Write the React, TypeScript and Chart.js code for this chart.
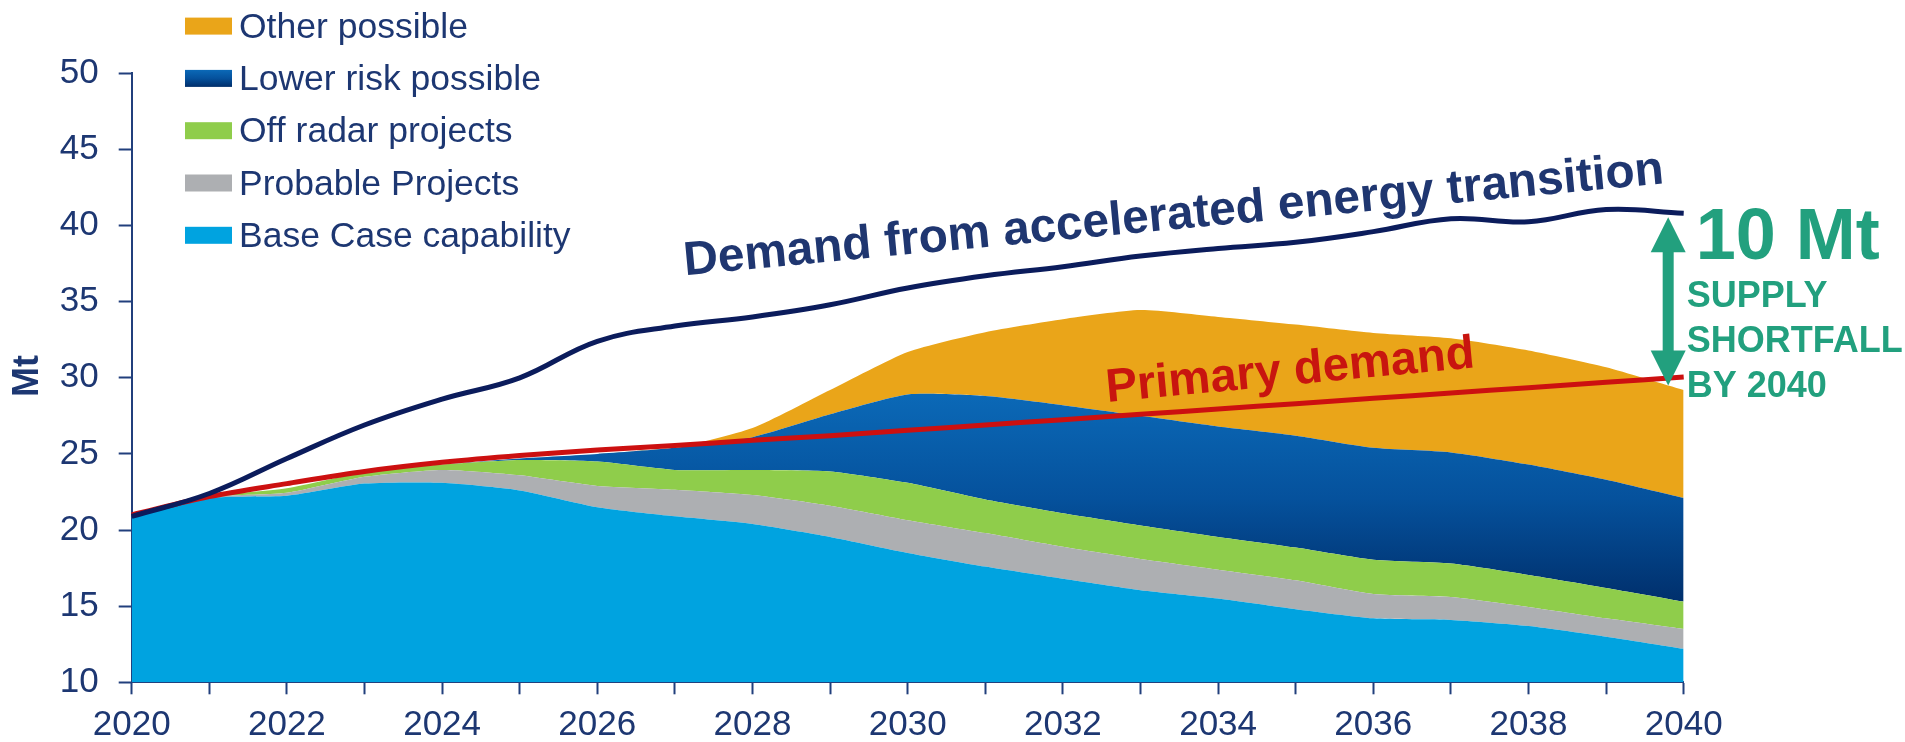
import { useEffect, useRef } from 'react';
import { Chart, registerables } from 'chart.js';

Chart.register(...registerables);

// ---------- data ----------
const years = ['2020', '2021', '2022', '2023', '2024', '2025', '2026', '2027', '2028', '2029', '2030', '2031', '2032', '2033', '2034', '2035', '2036', '2037', '2038', '2039', '2040'];

// stacked supply layers (Mt), bottom to top
const baseCase = [20.8, 22.1, 22.25, 23.05, 23.1, 22.6, 21.5, 20.9, 20.4, 19.55, 18.5, 17.6, 16.8, 16.05, 15.5, 14.8, 14.2, 14.1, 13.7, 13.0, 12.2];
const probableProjects = [0, 0.05, 0.2, 0.45, 0.85, 1.0, 1.4, 1.75, 1.9, 2.05, 2.15, 2.2, 2.1, 2.05, 1.9, 1.9, 1.6, 1.5, 1.25, 1.2, 1.3];
const offRadarProjects = [0, 0.05, 0.3, 0.3, 0.35, 1.0, 1.6, 1.3, 1.65, 2.25, 2.45, 2.2, 2.2, 2.2, 2.15, 2.15, 2.25, 2.2, 2.1, 2.0, 1.8];
const lowerRiskPossible = [0, 0, 0, 0, 0, 0.1, 0.5, 1.45, 2.15, 3.75, 5.8, 6.8, 7.1, 7.2, 7.25, 7.35, 7.35, 7.3, 7.25, 7.1, 6.8];
const otherPossible = [0, 0, 0, 0, 0, 0, 0, 0, 0.6, 1.6, 2.8, 4.2, 5.65, 6.95, 7.2, 7.3, 7.55, 7.5, 7.5, 7.4, 7.1];

// demand lines (Mt)
const primaryDemand = [21.0, 22.2, 23.05, 23.85, 24.45, 24.9, 25.25, 25.55, 25.9, 26.2, 26.55, 26.9, 27.25, 27.6, 27.95, 28.3, 28.65, 29.0, 29.35, 29.7, 30.05];
const acceleratedDemand = [20.9, 22.4, 24.7, 26.9, 28.6, 30.0, 32.4, 33.4, 34.0, 34.8, 35.9, 36.7, 37.3, 38.0, 38.5, 38.9, 39.6, 40.45, 40.25, 41.05, 40.8];

const legendLabels = ['Other possible', 'Lower risk possible', 'Off radar projects', 'Probable Projects', 'Base Case capability'];

const Y_MIN = 10;
const Y_MAX = 50;
const Y_STEP = 5;

// ---------- styles ----------
const FONT = '"Liberation Sans", Arial, Helvetica, sans-serif';
const TEXT_NAVY = '#1d3772';
const AXIS_NAVY = '#213f7c';
const C_BASE = '#00a3e0';
const C_PROB = '#adafb2';
const C_OFF = '#8fcd4b';
const C_OTHER = '#eaa519';
const C_RED = '#cc1010';
const C_DEMAND = '#0b1c5c';
const C_GREEN_TXT = '#22a07e';

function lowerRiskGradient(ctx: CanvasRenderingContext2D, y0: number, y1: number) {
  const g = ctx.createLinearGradient(0, y0, 0, y1);
  g.addColorStop(0, '#0b69b7');
  g.addColorStop(0.5, '#05519c');
  g.addColorStop(1, '#002e6a');
  return g;
}

const lowerRiskFill = (context: any) => {
  const chart = context.chart;
  const ys = chart.scales && chart.scales.y;
  if (!chart.chartArea || !ys) return '#05519c';
  return lowerRiskGradient(chart.ctx, ys.getPixelForValue(29), ys.getPixelForValue(15));
};

const overlayPlugin = {
  id: 'overlay',
  afterDraw(chart: any) {
    const { ctx, chartArea } = chart;
    const xs = chart.scales.x;
    const ys = chart.scales.y;
    const px = (yr: number) => xs.getPixelForValue(yr - 2020);
    const py = (v: number) => ys.getPixelForValue(v);

    // legend
    const legendColors = [C_OTHER, 'grad', C_OFF, C_PROB, C_BASE];
    const boxX = 185, boxW = 47, boxH = 17, textX = 239;
    const firstCenter = 26.1, spacing = 52.3;
    ctx.save();
    ctx.font = `35.5px ${FONT}`;
    ctx.textBaseline = 'alphabetic';
    ctx.textAlign = 'left';
    legendLabels.forEach((label, i) => {
      const cy = firstCenter + i * spacing;
      const c = legendColors[i];
      ctx.fillStyle = c === 'grad' ? lowerRiskGradient(ctx, cy - boxH / 2, cy + boxH / 2) : c;
      ctx.fillRect(boxX, cy - boxH / 2, boxW, boxH);
      ctx.fillStyle = TEXT_NAVY;
      ctx.fillText(label, textX, cy + 11.5);
    });
    ctx.restore();

    // y axis title
    ctx.save();
    ctx.translate(28, 376);
    ctx.rotate(-Math.PI / 2);
    ctx.font = `bold 36px ${FONT}`;
    ctx.fillStyle = TEXT_NAVY;
    ctx.textAlign = 'center';
    ctx.textBaseline = 'middle';
    ctx.fillText('Mt', 0, 0);
    ctx.restore();

    // slanted labels fitted between two data-space anchors
    const slanted = (text: string, a: [number, number], b: [number, number], color: string, size: number) => {
      const x1 = px(a[0]), y1 = py(a[1]), x2 = px(b[0]), y2 = py(b[1]);
      const ang = Math.atan2(y2 - y1, x2 - x1);
      const dist = Math.hypot(x2 - x1, y2 - y1);
      ctx.save();
      ctx.font = `bold ${size}px ${FONT}`;
      const w = ctx.measureText(text).width;
      const fs = size * dist / w;
      ctx.font = `bold ${fs}px ${FONT}`;
      ctx.translate(x1, y1);
      ctx.rotate(ang);
      ctx.fillStyle = color;
      ctx.textAlign = 'left';
      ctx.textBaseline = 'alphabetic';
      ctx.fillText(text, 0, 0);
      ctx.restore();
    };
    slanted('Demand from accelerated energy transition', [2027.13, 36.74], [2039.76, 42.78], '#1f3670', 48);
    slanted('Primary demand', [2032.57, 28.41], [2037.32, 30.69], '#c8150f', 46);

    // double arrow
    const ax = px(2039.8);
    const yTop = py(40.55);
    const yBot = py(29.5);
    const headL = 35, headW = 17.5, shaft = 11;
    ctx.save();
    ctx.fillStyle = C_GREEN_TXT;
    ctx.fillRect(ax - shaft / 2, yTop + headL - 1, shaft, yBot - yTop - 2 * headL + 2);
    ctx.beginPath();
    ctx.moveTo(ax, yTop);
    ctx.lineTo(ax + headW, yTop + headL);
    ctx.lineTo(ax - headW, yTop + headL);
    ctx.closePath();
    ctx.fill();
    ctx.beginPath();
    ctx.moveTo(ax, yBot);
    ctx.lineTo(ax + headW, yBot - headL);
    ctx.lineTo(ax - headW, yBot - headL);
    ctx.closePath();
    ctx.fill();

    // right-hand annotation
    ctx.textAlign = 'left';
    ctx.textBaseline = 'alphabetic';
    ctx.font = `bold 72px ${FONT}`;
    ctx.fillText('10 Mt', chartArea.right + 12, py(37.78));
    ctx.font = `bold 36px ${FONT}`;
    ctx.fillText('SUPPLY', chartArea.right + 3, py(34.63));
    ctx.fillText('SHORTFALL', chartArea.right + 3, py(31.68));
    ctx.fillText('BY 2040', chartArea.right + 3, py(28.72));
    ctx.restore();
  },
};

export default function App() {
  const canvasRef = useRef<HTMLCanvasElement | null>(null);

  useEffect(() => {
    const canvas = canvasRef.current;
    if (!canvas) return;

    const area = (label: string, data: number[], color: any, fill: any) => ({
      label,
      data,
      backgroundColor: color,
      borderWidth: 0,
      borderColor: 'rgba(0,0,0,0)',
      pointRadius: 0,
      fill,
      tension: 0.2,
      stack: 'supply',
      order: 3,
    });

    const chart = new Chart(canvas, {
      type: 'line',
      data: {
        labels: years,
        datasets: [
          area('Base Case capability', baseCase, C_BASE, 'start'),
          area('Probable Projects', probableProjects, C_PROB, '-1'),
          area('Off radar projects', offRadarProjects, C_OFF, '-1'),
          area('Lower risk possible', lowerRiskPossible, lowerRiskFill, '-1'),
          area('Other possible', otherPossible, C_OTHER, '-1'),
          {
            label: 'Primary demand',
            data: primaryDemand,
            borderColor: C_RED,
            borderWidth: 5,
            pointRadius: 0,
            fill: false,
            tension: 0.3,
            stack: 'primary',
            order: 2,
          },
          {
            label: 'Demand from accelerated energy transition',
            data: acceleratedDemand,
            borderColor: C_DEMAND,
            borderWidth: 5,
            pointRadius: 0,
            fill: false,
            tension: 0.4,
            stack: 'accelerated',
            order: 1,
          },
        ] as any,
      },
      options: {
        animation: false,
        responsive: false,
        devicePixelRatio: 1,
        events: [],
        layout: { padding: { left: 0, top: 73.3, right: 221.3, bottom: 0 } },
        plugins: {
          legend: { display: false },
          tooltip: { enabled: false },
        },
        scales: {
          x: {
            type: 'category',
            offset: false,
            grid: {
              display: true,
              drawOnChartArea: false,
              drawTicks: true,
              tickLength: 12,
              tickWidth: 2,
              color: AXIS_NAVY,
              offset: false,
            },
            border: { display: true, color: AXIS_NAVY, width: 2 },
            ticks: {
              autoSkip: false,
              maxRotation: 0,
              minRotation: 0,
              padding: 10,
              color: TEXT_NAVY,
              font: { family: FONT, size: 35 },
              callback: (_v: any, i: number) => (i % 2 === 0 ? years[i] : ''),
            },
            afterFit: (s: any) => { s.height = 59.7; },
          },
          y: {
            type: 'linear',
            stacked: true,
            min: Y_MIN,
            max: Y_MAX,
            grid: {
              display: true,
              drawOnChartArea: false,
              drawTicks: true,
              tickLength: 13,
              tickWidth: 2,
              color: AXIS_NAVY,
            },
            border: { display: true, color: AXIS_NAVY, width: 2 },
            ticks: {
              stepSize: Y_STEP,
              padding: 20,
              color: TEXT_NAVY,
              font: { family: FONT, size: 35 },
            },
            afterFit: (s: any) => { s.width = 131.7; },
          },
        },
      } as any,
      plugins: [overlayPlugin],
    });

    return () => chart.destroy();
  }, []);

  return (
    <div style={{ position: 'absolute', left: 0, top: 0, width: 1905, height: 742, background: '#ffffff' }}>
      <canvas ref={canvasRef} width={1905} height={742} style={{ display: 'block', width: 1905, height: 742 }} />
    </div>
  );
}
